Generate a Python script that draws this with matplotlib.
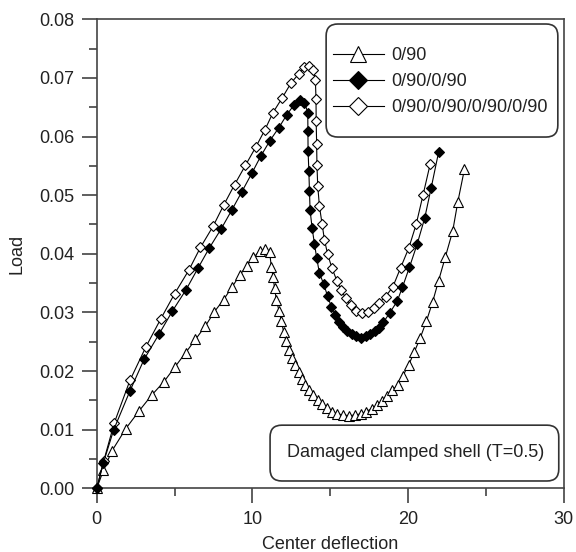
import matplotlib
matplotlib.use("Agg")
import matplotlib.pyplot as plt
from matplotlib.patches import FancyBboxPatch
from matplotlib.ticker import MultipleLocator

plt.rcParams['font.family'] = ['Liberation Sans', 'DejaVu Sans']

# 0/90 (open triangles)
x_0_90 = [0, 0.43, 0.98, 1.87, 2.72, 3.53, 4.32, 5.02, 5.70, 6.34, 6.98, 7.55, 8.15, 8.68,
          9.17, 9.64, 10.06, 10.5, 10.8, 11.1, 11.21, 11.32, 11.42, 11.53, 11.70, 11.85,
          12.0, 12.16, 12.34, 12.55, 12.76, 12.98, 13.19, 13.40, 13.66, 13.91, 14.19, 14.47,
          14.76, 15.1, 15.46, 15.83, 16.2, 16.59, 16.96, 17.32, 17.66, 18.02, 18.34, 18.66,
          18.98, 19.36, 19.66, 20.04, 20.4, 20.78, 21.17, 21.57, 21.95, 22.38, 22.86, 23.19,
          23.61]
y_0_90 = [0, 0.0031, 0.0064, 0.0102, 0.0132, 0.0159, 0.0182, 0.0207, 0.0231, 0.0254, 0.0277,
          0.0301, 0.0322, 0.0343, 0.0363, 0.0380, 0.0394, 0.0405, 0.0408, 0.0403, 0.0378,
          0.0361, 0.0341, 0.0322, 0.0303, 0.0286, 0.0267, 0.0251, 0.0236, 0.0223, 0.0210,
          0.0198, 0.0187, 0.0177, 0.0167, 0.0159, 0.0150, 0.0143, 0.0137, 0.0131, 0.0127,
          0.0125, 0.0124, 0.0125, 0.0127, 0.0131, 0.0136, 0.0142, 0.0149, 0.0158, 0.0167,
          0.0177, 0.0192, 0.0211, 0.0233, 0.0257, 0.0285, 0.0318, 0.0354, 0.0394, 0.0439,
          0.0489, 0.0544]

# 0/90/0/90 (filled diamonds)
x_4 = [0, 0.43, 1.09, 2.13, 3.04, 4.00, 4.85, 5.74, 6.49, 7.23, 8.0, 8.68, 9.32, 9.95, 10.52,
       11.12, 11.69, 12.2, 12.64, 13.02, 13.34, 13.55, 13.56, 13.57, 13.62, 13.66, 13.70,
       13.83, 13.98, 14.13, 14.3, 14.58, 14.82, 15.06, 15.33, 15.57, 15.83, 16.1, 16.38,
       16.68, 16.96, 17.27, 17.55, 17.87, 18.12, 18.4, 18.81, 19.29, 19.63, 20.08, 20.57,
       21.06, 21.48, 21.95]
y_4 = [0, 0.0044, 0.0100, 0.0166, 0.0220, 0.0263, 0.0302, 0.0339, 0.0375, 0.0410, 0.0443,
       0.0475, 0.0506, 0.0537, 0.0566, 0.0593, 0.0615, 0.0637, 0.0653, 0.0662, 0.0658,
       0.0641, 0.0610, 0.0576, 0.0541, 0.0507, 0.0474, 0.0444, 0.0417, 0.0392, 0.0367,
       0.0348, 0.0328, 0.0310, 0.0296, 0.0284, 0.0276, 0.0269, 0.0263, 0.0259, 0.0257,
       0.0259, 0.0263, 0.0269, 0.0274, 0.0283, 0.0299, 0.0319, 0.0343, 0.0377, 0.0416,
       0.0461, 0.0513, 0.0573]

# 0/90/0/90/0/90/0/90 (open diamonds)
x_8 = [0, 0.45, 1.13, 2.13, 3.15, 4.11, 5.0, 5.91, 6.66, 7.47, 8.15, 8.85, 9.55, 10.21, 10.79,
       11.32, 11.91, 12.49, 12.98, 13.34, 13.66, 13.91, 14.04, 14.08, 14.09, 14.12, 14.14,
       14.19, 14.30, 14.47, 14.62, 14.83, 15.1, 15.42, 15.68, 16.0, 16.32, 16.68, 17.06,
       17.44, 17.81, 18.12, 18.55, 19.02, 19.51, 20.04, 20.51, 20.95, 21.42]
y_8 = [0, 0.0047, 0.0112, 0.0184, 0.0241, 0.0289, 0.0332, 0.0372, 0.0411, 0.0447, 0.0483,
       0.0518, 0.0551, 0.0582, 0.0611, 0.0641, 0.0666, 0.0692, 0.0707, 0.0718, 0.0721,
       0.0713, 0.0696, 0.0664, 0.0627, 0.0588, 0.0552, 0.0516, 0.0481, 0.0451, 0.0424,
       0.0399, 0.0376, 0.0354, 0.0339, 0.0324, 0.0312, 0.0303, 0.0299, 0.0301, 0.0307,
       0.0316, 0.0327, 0.0344, 0.0376, 0.0410, 0.0450, 0.0500, 0.0554]

labels = ["0/90", "0/90/0/90", "0/90/0/90/0/90/0/90"]
annotation = "Damaged clamped shell (T=0.5)"
x_label = "Center deflection"
y_label = "Load"

FS = 13
TXT = '#222222'
fig = plt.figure(figsize=(5.76, 5.52), dpi=100)
ax = fig.add_axes([0.168, 0.1154, 0.811, 0.8496])

lw = 0.8
ax.plot(x_0_90, y_0_90, color='black', lw=lw, marker='^', ms=7, mfc='white',
        mec='black', mew=0.8, label=labels[0], zorder=3, clip_on=False)
ax.plot(x_4, y_4, color='black', lw=lw, marker='D', ms=5.3, mfc='black',
        mec='black', mew=0.8, label=labels[1], zorder=5, clip_on=False)
ax.plot(x_8, y_8, color='black', lw=lw, marker='D', ms=5.3, mfc='white',
        mec='black', mew=0.8, label=labels[2], zorder=4, clip_on=False)

ax.set_xlim(0, 30)
ax.set_ylim(0, 0.08)
ax.xaxis.set_major_locator(MultipleLocator(10))
ax.xaxis.set_minor_locator(MultipleLocator(5))
ax.yaxis.set_major_locator(MultipleLocator(0.01))
ax.yaxis.set_minor_locator(MultipleLocator(0.005))
ax.yaxis.set_major_formatter(plt.FuncFormatter(lambda v, p: f"{v:.2f}"))

for s in ax.spines.values():
    s.set_color('#444444')
    s.set_linewidth(1.2)
ax.tick_params(which='major', direction='out', length=11, width=1.1, color='#333333',
               labelsize=FS, labelcolor=TXT, pad=5)
ax.tick_params(which='minor', direction='out', length=6, width=1.1, color='#333333')
ax.tick_params(top=False, right=False, which='both')

ax.set_xlabel(x_label, fontsize=FS, color=TXT, labelpad=6)
ax.set_ylabel(y_label, fontsize=FS, color=TXT, labelpad=10)

# legend frame
ax.add_patch(FancyBboxPatch((0.491, 0.749), 0.496, 0.241, transform=ax.transAxes,
                            boxstyle="round,pad=0,rounding_size=0.025",
                            fc='white', ec='#333333', lw=1.2, zorder=6))
leg = ax.legend(loc='center left', bbox_to_anchor=(0.505, 0.867), borderaxespad=0,
                borderpad=0, frameon=False, fontsize=FS, handlelength=2.83,
                handletextpad=0.43, labelspacing=0.5, markerscale=1.7)
leg.set_zorder(7)
for t in leg.get_texts():
    t.set_color(TXT)

# annotation box
ax.add_patch(FancyBboxPatch((0.371, 0.0156), 0.618, 0.119, transform=ax.transAxes,
                            boxstyle="round,pad=0,rounding_size=0.025",
                            fc='white', ec='#333333', lw=1.2, zorder=6))
ax.text(0.682, 0.0753, annotation, transform=ax.transAxes, ha='center', va='center',
        fontsize=FS, color=TXT, zorder=7)

fig.savefig("out.png", dpi=100)
